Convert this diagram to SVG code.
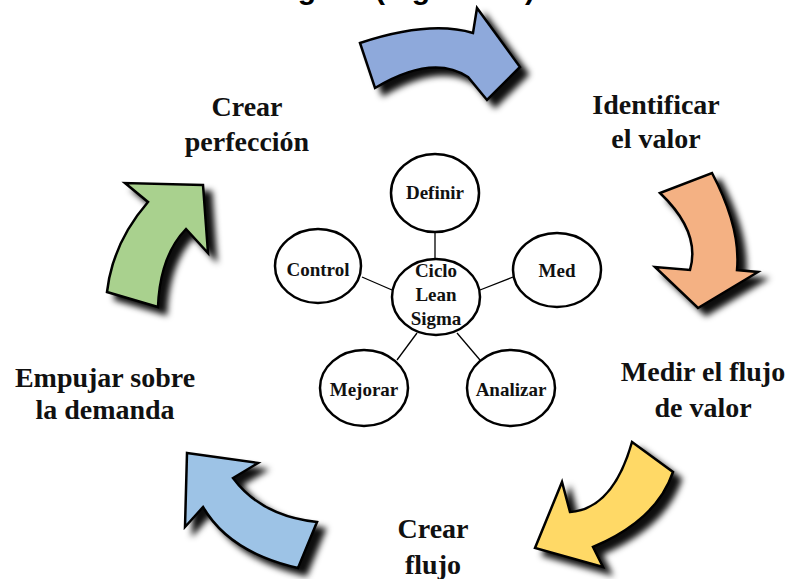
<svg xmlns="http://www.w3.org/2000/svg" width="789" height="579" viewBox="0 0 789 579">
  <defs>
    <filter id="shadow" x="-30%" y="-30%" width="160%" height="160%">
      <feGaussianBlur in="SourceAlpha" stdDeviation="3" result="blur"/>
      <feOffset in="blur" dx="8" dy="7" result="off"/>
      <feFlood flood-color="#000" flood-opacity="0.95"/>
      <feComposite in2="off" operator="in" result="sh"/>
      <feMerge>
        <feMergeNode in="sh"/>
        <feMergeNode in="SourceGraphic"/>
      </feMerge>
    </filter>
  </defs>
  <style>
    .title { font-family: "Liberation Sans", Arial, sans-serif; font-weight: bold; font-size: 30px; fill: #000; }
    .label { font-family: "Liberation Serif", "Times New Roman", serif; font-weight: bold; font-size: 28px; fill: #111; text-anchor: middle; }
    .small { font-family: "Liberation Serif", "Times New Roman", serif; font-weight: bold; font-size: 19px; fill: #111; text-anchor: middle; }
    .arrow { stroke: #000; stroke-width: 2.5; stroke-linejoin: miter; filter: url(#shadow); }
    .node ellipse { fill: #fff; stroke: #000; stroke-width: 2.5; }
    .link line { stroke: #000; stroke-width: 1.3; }
  </style>

  <rect width="789" height="579" fill="#fff"/>

  <!-- heading, mostly above the top edge -->
  <text class="title" y="-1"><tspan x="269.5">Sigma</tspan><tspan x="375">(Figura</tspan><tspan x="525">)</tspan></text>

  <!-- cycle arrows -->
  <g id="arrow-top">
    <path class="arrow" fill="#8EA9DB" d="M360,43 Q429.5,20 473,33 L477,8 L520,67 L487,100 L468,77 Q432.5,53.5 375,88 Z"/>
  </g>
  <g id="arrow-right">
    <path class="arrow" fill="#F4B183" d="M660,193 Q701,232 690,270 L655,267 L698,308 L758,272 L737,270 Q741,228 712,173 Z"/>
  </g>
  <g id="arrow-bottom-right">
    <path class="arrow" fill="#FFD966" d="M632,442 L673,472 Q657,520 593,547 L603,567 L535,548 L562,482 L570,512 Q613,509 632,442 Z"/>
  </g>
  <g id="arrow-bottom-left">
    <path class="arrow" fill="#9DC3E6" d="M187,453 L258,463 L233,478 Q261,516 317,522 L298,568 Q229.5,552.5 203,507 L185,527 Z"/>
  </g>
  <g id="arrow-left">
    <path class="arrow" fill="#A9D18E" d="M203,185 L125,183 L148,202 Q112.5,243 107,292 L158,307 Q160,256 186,229 L208,253 Z"/>
  </g>

  <!-- stage labels -->
  <g id="label-crear-perfeccion">
    <text class="label" x="247" y="116">Crear</text>
    <text class="label" x="247" y="151">perfección</text>
  </g>
  <g id="label-identificar">
    <text class="label" x="656" y="114">Identificar</text>
    <text class="label" x="656" y="148">el valor</text>
  </g>
  <g id="label-medir">
    <text class="label" x="703" y="381">Medir el flujo</text>
    <text class="label" x="703" y="417">de valor</text>
  </g>
  <g id="label-crear-flujo">
    <text class="label" x="433" y="538">Crear</text>
    <text class="label" x="433" y="574">flujo</text>
  </g>
  <g id="label-empujar">
    <text class="label" x="105" y="387">Empujar sobre</text>
    <text class="label" x="105" y="419">la demanda</text>
  </g>

  <!-- hub connectors -->
  <g id="connectors" class="link">
    <line x1="435" y1="232" x2="435" y2="262"/>
    <line x1="362" y1="277" x2="392" y2="290"/>
    <line x1="480" y1="290" x2="513" y2="277"/>
    <line x1="397" y1="360" x2="417" y2="333"/>
    <line x1="457" y1="333" x2="480" y2="360"/>
  </g>

  <!-- hub and spokes -->
  <g id="node-definir" class="node">
    <ellipse cx="435" cy="193" rx="44" ry="39"/>
    <text class="small" x="435" y="199">Definir</text>
  </g>
  <g id="node-control" class="node">
    <ellipse cx="318" cy="266" rx="43" ry="37"/>
    <text class="small" x="318" y="276">Control</text>
  </g>
  <g id="node-med" class="node">
    <ellipse cx="557" cy="270" rx="44" ry="37"/>
    <text class="small" x="557" y="277">Med</text>
  </g>
  <g id="node-ciclo" class="node">
    <ellipse cx="436" cy="297" rx="44" ry="38"/>
    <text class="small" x="436" y="277">Ciclo</text>
    <text class="small" x="436" y="301">Lean</text>
    <text class="small" x="436" y="325">Sigma</text>
  </g>
  <g id="node-mejorar" class="node">
    <ellipse cx="364" cy="388" rx="44" ry="38"/>
    <text class="small" x="364" y="396">Mejorar</text>
  </g>
  <g id="node-analizar" class="node">
    <ellipse cx="511" cy="388" rx="44" ry="38"/>
    <text class="small" x="511" y="396">Analizar</text>
  </g>
</svg>
